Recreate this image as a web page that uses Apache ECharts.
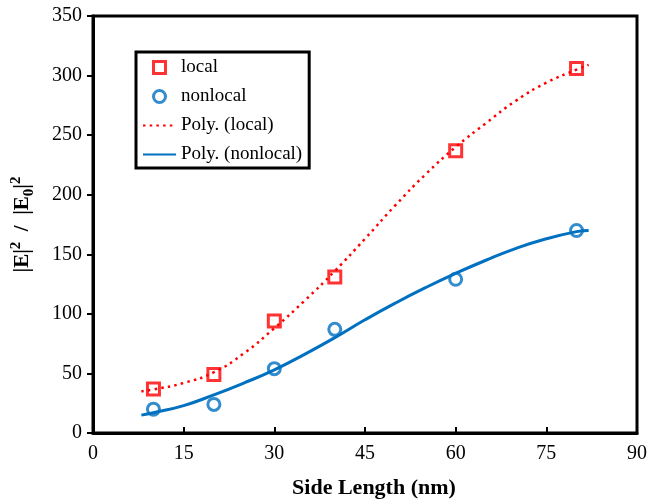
<!DOCTYPE html>
<html>
<head>
<meta charset="utf-8">
<script src="https://cdn.jsdelivr.net/npm/echarts@6/dist/echarts.min.js"></script>
<style>
  html, body { margin: 0; padding: 0; background: #fff; }
  #main { width: 650px; height: 504px; }
</style>
</head>
<body>
<div id="main"></div>
<script>
  // measured points
  var sideLength = [10, 20, 30, 40, 60, 80];
  var localVals = [37, 49, 94, 131, 237, 306];
  var nonlocalVals = [20, 24, 54, 87, 129, 170];

  // trend curves
  var fitX = [8, 10, 15, 20, 25, 30, 35, 40, 45, 50, 55, 60, 65, 70, 75, 80, 82];
  var localFit = [35, 36.5, 42, 51, 67, 88, 111, 136, 163, 191, 217, 240, 260, 279, 294, 305, 309];
  var nonlocalFit = [15, 17, 23, 32, 42, 53, 66, 80, 95, 109, 122, 134, 145, 155, 163, 169, 170];

  var font = "'Liberation Serif', 'Times New Roman', serif";
  var red = '#ff0000';
  var blue = '#0070c0';
  var squarePath = 'path://M0,0L10,0L10,10L0,10Z';
  var clear = 'rgba(0,0,0,0)';

  function pairs(xs, ys) {
    return xs.map(function (x, i) { return [x, ys[i]]; });
  }

  var myChart = echarts.init(document.getElementById('main'));

  var option = {
    backgroundColor: '#fff',
    animation: false,
    grid: {
      left: 93, right: 11, top: 16, bottom: 69,
      show: true, borderColor: '#000', borderWidth: 3
    },
    legend: {
      orient: 'vertical',
      left: 136, top: 52,
      padding: [6, 7, 4, 6],
      itemGap: 10,
      itemWidth: 33,
      itemHeight: 12,
      symbolKeepAspect: true,
      borderColor: '#000',
      borderWidth: 3,
      backgroundColor: '#fff',
      textStyle: { fontFamily: font, fontSize: 19, color: '#000' },
      data: [
        { name: 'local', icon: squarePath, itemStyle: { color: clear, borderColor: red, borderWidth: 3 } },
        { name: 'nonlocal', icon: 'circle', itemStyle: { color: clear, borderColor: blue, borderWidth: 3 } },
        { name: 'Poly. (local)', itemStyle: { color: clear, opacity: 0 } },
        { name: 'Poly. (nonlocal)', itemStyle: { color: clear, opacity: 0 } }
      ]
    },
    xAxis: {
      type: 'value',
      min: 0, max: 90, interval: 15,
      name: 'Side Length (nm)',
      nameLocation: 'middle',
      nameGap: 44,
      nameTextStyle: { fontFamily: font, fontSize: 22, fontWeight: 'bold', color: '#000', padding: [0, 0, 0, 18] },
      axisLine: { lineStyle: { color: '#000', width: 3 } },
      axisTick: { inside: true, length: 6, lineStyle: { color: '#000', width: 2 } },
      axisLabel: { fontFamily: font, fontSize: 20, color: '#000', margin: 11 },
      splitLine: { show: false }
    },
    yAxis: {
      type: 'value',
      min: 0, max: 350, interval: 50,
      name: '{t||E|}{sup|2}{t|  /  |E}{sub|0}{t||}{sup|2}',
      nameLocation: 'middle',
      nameGap: 56,
      nameTextStyle: {
        rich: {
          t: { fontFamily: font, fontSize: 21, fontWeight: 'bold', color: '#000', lineHeight: 28, verticalAlign: 'middle' },
          sup: { fontFamily: font, fontSize: 15, fontWeight: 'bold', color: '#000', lineHeight: 28, verticalAlign: 'top', padding: [0, 0, 7, 0] },
          sub: { fontFamily: font, fontSize: 15, fontWeight: 'bold', color: '#000', lineHeight: 28, verticalAlign: 'bottom', padding: [5, 0, 0, 0] }
        }
      },
      axisLine: { show: true, lineStyle: { color: '#000', width: 3 } },
      axisTick: { show: true, inside: false, length: 6, lineStyle: { color: '#000', width: 2 } },
      axisLabel: { fontFamily: font, fontSize: 20, color: '#000', margin: 11 },
      splitLine: { show: false }
    },
    series: [
      {
        name: 'local',
        type: 'scatter',
        symbol: squarePath,
        symbolKeepAspect: true,
        symbolSize: 12,
        z: 3,
        itemStyle: { color: clear, borderColor: red, borderWidth: 3 },
        data: pairs(sideLength, localVals)
      },
      {
        name: 'nonlocal',
        type: 'scatter',
        symbol: 'circle',
        symbolSize: 12,
        z: 3,
        itemStyle: { color: clear, borderColor: blue, borderWidth: 3 },
        data: pairs(sideLength, nonlocalVals)
      },
      {
        name: 'Poly. (local)',
        type: 'line',
        smooth: true,
        symbol: 'none',
        showSymbol: false,
        itemStyle: { color: clear },
        lineStyle: { color: red, width: 2.5, type: [2.5, 4.2], cap: 'butt' },
        data: pairs(fitX, localFit)
      },
      {
        name: 'Poly. (nonlocal)',
        type: 'line',
        smooth: true,
        symbol: 'none',
        showSymbol: false,
        itemStyle: { color: clear },
        lineStyle: { color: blue, width: 3 },
        data: pairs(fitX, nonlocalFit)
      }
    ]
  };

  myChart.setOption(option);
  window.addEventListener('resize', function () {
    myChart.resize();
  });
</script>
</body>
</html>
